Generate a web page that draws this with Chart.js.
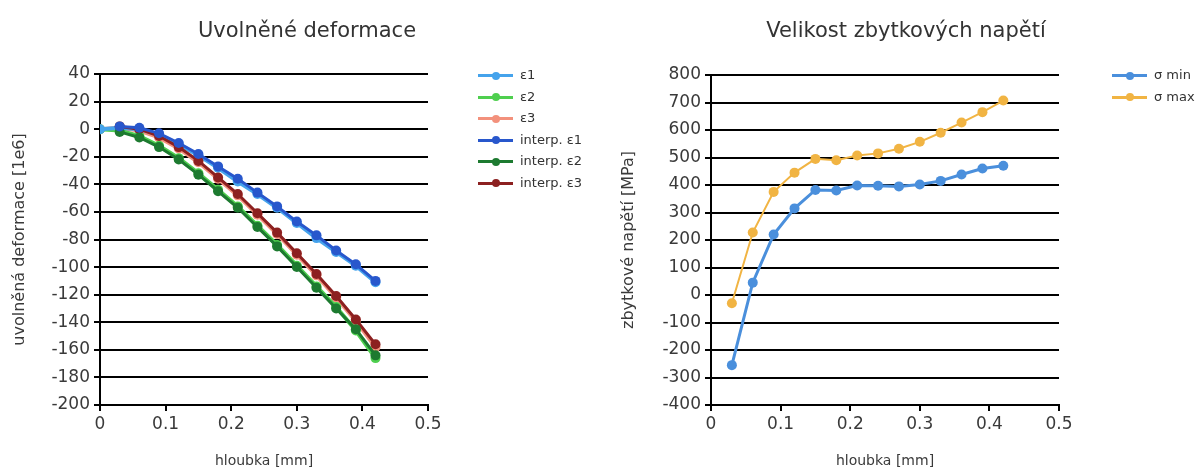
<!DOCTYPE html>
<html>
<head>
<meta charset="utf-8">
<script src="https://cdn.jsdelivr.net/npm/chart.js@4/dist/chart.umd.min.js"></script>
<style>
  body { margin: 0; background: #fff; font-family: "DejaVu Sans", sans-serif; }
  #wrap { position: relative; width: 1203px; height: 470px; overflow: hidden; }
  canvas { position: absolute; top: 0; }
  .title { position: absolute; top: 18px; font-size: 21px; color: #333; white-space: nowrap; transform: translateX(-50%); }
  .legend { position: absolute; font-size: 13px; color: #333; }
  .legend div { height: 21.6px; line-height: 21.6px; white-space: nowrap; }
  .legend .mark { display: inline-block; position: relative; width: 35px; height: 3px; vertical-align: middle; margin-right: 7px; }
  .legend .mark i { position: absolute; left: 14px; top: -2.5px; width: 8px; height: 8px; border-radius: 50%; }
</style>
</head>
<body>
<div id="wrap">
  <canvas id="deformChart" width="600" height="470" style="left:0"></canvas>
  <canvas id="stressChart" width="603" height="470" style="left:600px"></canvas>
  <div class="title" style="left:307px">Uvolněné deformace</div>
  <div class="title" style="left:906px">Velikost zbytkových napětí</div>
  <div class="legend" id="deformLegend" style="left:478px; top:64px"></div>
  <div class="legend" id="stressLegend" style="left:1112px; top:64px"></div>
</div>
<script>
// hloubka [mm]
const depthMeasured = [0, 0.03, 0.06, 0.09, 0.12, 0.15, 0.18, 0.21, 0.24, 0.27, 0.3, 0.33, 0.36, 0.39, 0.42];
const depthInterp = [0.03, 0.06, 0.09, 0.12, 0.15, 0.18, 0.21, 0.24, 0.27, 0.3, 0.33, 0.36, 0.39, 0.42];

// uvolnene deformace [1e6]
const eps1 = [0, 1, 0, -4, -11, -19, -28, -38, -47, -57, -68, -79, -89, -99, -111];
const eps2 = [0, -1, -5, -12, -21, -32, -44, -56, -70, -84, -99, -114, -129, -146, -166];
const eps3 = [0, 1, -1, -6, -14, -24, -36, -48, -62, -76, -91, -106, -122, -139, -158];
const interpEps1 = [2, 1, -3, -10, -18, -27, -36, -46, -56, -67, -77, -88, -98, -110];
const interpEps2 = [-2, -6, -13, -22, -33, -45, -57, -71, -85, -100, -115, -130, -145, -164];
const interpEps3 = [2, 0, -5, -13, -23, -35, -47, -61, -75, -90, -105, -121, -138, -156];

// zbytkove napeti [MPa]
const depthStress = [0.03, 0.06, 0.09, 0.12, 0.15, 0.18, 0.21, 0.24, 0.27, 0.3, 0.33, 0.36, 0.39, 0.42];
const sigmaMin = [-255, 45, 220, 315, 382, 380, 398, 397, 395, 402, 415, 438, 460, 470];
const sigmaMax = [-30, 227, 375, 445, 495, 490, 507, 515, 532, 557, 590, 627, 665, 707];

const tickFont = { family: "DejaVu Sans", size: 17 };
const xTitleFont = { family: "DejaVu Sans", size: 14 };
const yTitleFont = { family: "DejaVu Sans", size: 16 };
const tickColor = "#3a3a3a";

function toPoints(xs, ys) {
  return ys.map((y, i) => ({ x: xs[i], y: y }));
}

function series(label, xs, ys, color, width, radius, order) {
  return {
    label: label,
    data: toPoints(xs, ys),
    borderColor: color,
    backgroundColor: color,
    pointBackgroundColor: color,
    pointBorderWidth: 0,
    borderWidth: width,
    pointRadius: radius,
    tension: 0,
    order: order,
  };
}

function axes(xTitle, yTitle, yMin, yMax, yStep, yWidth, yTitlePad) {
  return {
    x: {
      type: "linear",
      min: 0,
      max: 0.5,
      ticks: { stepSize: 0.1, color: tickColor, font: tickFont, padding: 3 },
      grid: { drawOnChartArea: false, color: "#000", lineWidth: 2, tickLength: 6 },
      border: { color: "#000", width: 2 },
      title: { display: true, text: xTitle, color: tickColor, font: xTitleFont, padding: 0 },
      afterFit: (scale) => {
        scale.height = 65;
      },
    },
    y: {
      min: yMin,
      max: yMax,
      ticks: { stepSize: yStep, color: tickColor, font: tickFont, padding: 4 },
      grid: { color: "#000", lineWidth: 2, tickLength: 6 },
      border: { color: "#000", width: 2 },
      title: { display: true, text: yTitle, color: tickColor, font: yTitleFont, padding: { top: yTitlePad, bottom: 0 } },
      afterFit: (scale) => {
        scale.width = yWidth;
      },
    },
  };
}

const commonOptions = {
  responsive: false,
  animation: false,
  plugins: { legend: { display: false }, tooltip: { enabled: false } },
};

const deformChart = new Chart(document.getElementById("deformChart"), {
  type: "line",
  data: {
    datasets: [
      series("ε1", depthMeasured, eps1, "#45a3ec", 4, 5, 1),
      series("ε2", depthMeasured, eps2, "#4fcf4f", 4, 5, 1),
      series("ε3", depthMeasured, eps3, "#f3917c", 4, 5, 1),
      series("interp. ε1", depthInterp, interpEps1, "#2857cc", 3, 5, 0),
      series("interp. ε2", depthInterp, interpEps2, "#1d7a30", 3, 5, 0),
      series("interp. ε3", depthInterp, interpEps3, "#8c2020", 3, 5, 0),
    ],
  },
  options: {
    ...commonOptions,
    layout: { padding: { top: 74, right: 172, bottom: 0, left: 0 } },
    scales: axes("hloubka [mm]", "uvolněná deformace [1e6]", -200, 40, 20, 100, 10),
  },
});

const stressChart = new Chart(document.getElementById("stressChart"), {
  type: "line",
  data: {
    datasets: [
      series("σ min", depthStress, sigmaMin, "#4a8fdc", 3, 5, 0),
      series("σ max", depthStress, sigmaMax, "#f1b443", 2, 5, 1),
    ],
  },
  options: {
    ...commonOptions,
    layout: { padding: { top: 75, right: 144, bottom: 0, left: 0 } },
    scales: axes("hloubka [mm]", "zbytkové napětí [MPa]", -400, 800, 100, 111, 19),
  },
});

// html legend from the datasets
function buildLegend(chart, id) {
  const box = document.getElementById(id);
  chart.data.datasets.forEach((ds) => {
    const row = document.createElement("div");
    const mark = document.createElement("span");
    mark.className = "mark";
    mark.style.background = ds.borderColor;
    const dot = document.createElement("i");
    dot.style.background = ds.borderColor;
    mark.appendChild(dot);
    row.appendChild(mark);
    row.appendChild(document.createTextNode(ds.label));
    box.appendChild(row);
  });
}
buildLegend(deformChart, "deformLegend");
buildLegend(stressChart, "stressLegend");
</script>
</body>
</html>
